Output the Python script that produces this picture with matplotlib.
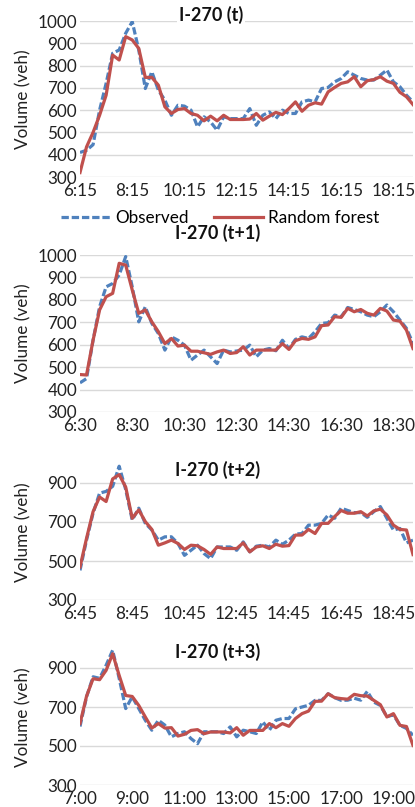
import matplotlib
matplotlib.use('Agg')
import matplotlib.pyplot as plt

plt.rcParams['font.family'] = ['Lato', 'DejaVu Sans']

# I-270 (t)
obs_t = [410, 420, 445, 600, 720, 855, 870, 945, 997, 870, 697, 772, 690, 645, 577, 622, 618, 600, 525, 570,
         547, 510, 570, 562, 562, 562, 607, 532, 577, 592, 562, 600, 585, 585, 637, 645, 637, 697, 702, 727,
         742, 772, 757, 742, 735, 735, 757, 780, 727, 705, 667, 637]
rf_t = [320, 435, 500, 577, 667, 847, 825, 930, 915, 877, 747, 747, 712, 615, 585, 603, 607, 585, 577, 552,
        573, 552, 577, 558, 558, 558, 560, 585, 555, 573, 590, 580, 607, 637, 595, 622, 633, 627, 682, 702,
        720, 727, 750, 705, 732, 737, 750, 730, 720, 680, 660, 625]

# I-270 (t+1)
obs_t1 = [430, 449, 620, 769, 858, 873, 911, 993, 858, 702, 769, 695, 650, 576, 635, 620, 598, 531, 554, 576,
          546, 516, 576, 568, 572, 576, 598, 546, 576, 583, 573, 620, 583, 624, 635, 628, 658, 695, 698, 732,
          725, 766, 757, 747, 732, 725, 747, 777, 747, 710, 673, 605]
rf_t1 = [467, 465, 620, 755, 814, 829, 963, 955, 844, 740, 755, 702, 658, 605, 628, 594, 598, 571, 571, 564,
         557, 568, 576, 561, 565, 591, 554, 576, 576, 576, 576, 605, 579, 618, 628, 624, 635, 685, 688, 725,
         722, 762, 747, 757, 740, 732, 762, 750, 710, 705, 665, 583]

# I-270 (t+2)
obs_t2 = [452, 607, 745, 848, 857, 883, 986, 866, 710, 771, 693, 659, 607, 624, 624, 590, 529, 555, 581, 538,
          512, 572, 572, 572, 555, 598, 547, 576, 581, 572, 607, 586, 607, 638, 641, 684, 684, 693, 736, 719,
          771, 759, 748, 748, 724, 753, 779, 719, 659, 667, 593, 607]
rf_t2 = [469, 616, 753, 828, 805, 921, 943, 879, 719, 762, 702, 662, 581, 593, 607, 590, 559, 581, 578, 559,
         534, 572, 564, 564, 564, 593, 547, 572, 578, 564, 586, 576, 579, 633, 633, 662, 641, 693, 693, 728,
         759, 745, 745, 753, 731, 757, 766, 736, 684, 662, 659, 533]

# I-270 (t+3)
obs_t3 = [600, 752, 855, 847, 914, 991, 847, 692, 752, 692, 632, 581, 632, 607, 547, 564, 573, 538, 512, 573,
          573, 573, 564, 598, 547, 581, 573, 564, 624, 581, 632, 641, 641, 691, 700, 709, 734, 734, 768, 748,
          734, 735, 745, 735, 780, 725, 708, 650, 660, 606, 590, 555]
rf_t3 = [615, 755, 845, 840, 888, 973, 862, 759, 754, 708, 649, 592, 615, 592, 594, 551, 560, 580, 584, 563,
         572, 572, 572, 567, 594, 555, 580, 580, 580, 615, 594, 615, 601, 641, 666, 679, 729, 730, 768, 748,
         743, 740, 765, 758, 756, 734, 712, 649, 666, 606, 600, 503]

labels_t = ['6:15', '8:15', '10:15', '12:15', '14:15', '16:15', '18:15']
labels_t1 = ['6:30', '8:30', '10:30', '12:30', '14:30', '16:30', '18:30']
labels_t2 = ['6:45', '8:45', '10:45', '12:45', '14:45', '16:45', '18:45']
labels_t3 = ['7:00', '9:00', '11:00', '13:00', '15:00', '17:00', '19:00']

titles = ['I-270 (t)', 'I-270 (t+1)', 'I-270 (t+2)', 'I-270 (t+3)']
observed = [obs_t, obs_t1, obs_t2, obs_t3]
forest = [rf_t, rf_t1, rf_t2, rf_t3]
xlabels = [labels_t, labels_t1, labels_t2, labels_t3]
yticks = [[300, 400, 500, 600, 700, 800, 900, 1000], [300, 400, 500, 600, 700, 800, 900, 1000],
          [300, 500, 700, 900], [300, 500, 700, 900]]

W, H = 415, 807
# caja de cada panel en pixeles: arriba, abajo, y del titulo, x del titulo
cajas = [(21, 177, 15, 211), (255, 412, 233, 218), (463.5, 600, 470, 218), (648.5, 785, 652, 218)]
izq, der = 80, 413

azul = '#4F81BD'
rojo = '#C0504D'
fs = 12.3

fig = plt.figure(figsize=(W / 100, H / 100), dpi=100)

for k in range(4):
    top, bot, ty, tx = cajas[k]
    ax = fig.add_axes([izq / W, 1 - bot / H, (der - izq) / W, (bot - top) / H])
    x = list(range(len(observed[k])))
    ax.plot(x, observed[k], color=azul, lw=2.3, dashes=(2.3, 0.9), label='Observed', zorder=3)
    ax.plot(x, forest[k], color=rojo, lw=2.3, label='Random forest', zorder=4)
    ax.set_xlim(0, len(x) - 1)
    ax.set_ylim(300, 1000)
    ax.set_yticks(yticks[k])
    ax.set_xticks(range(0, len(x) - 1, 8))
    ax.set_xticklabels(xlabels[k])
    ax.grid(axis='y', color='#D9D9D9', lw=1)
    ax.set_axisbelow(True)
    for s in ax.spines.values():
        s.set_visible(False)
    ax.tick_params(length=0, labelsize=fs, colors='#222222')
    ax.tick_params(axis='y', pad=2)
    ax.tick_params(axis='x', pad=4.5)
    fig.text(23 / W, 1 - (top + bot) / 2 / H, 'Volume (veh)', rotation=90, ha='center', va='center',
             fontsize=fs, color='#222222')
    fig.text(tx / W, 1 - ty / H, titles[k], ha='center', va='center', fontsize=13, fontweight='bold',
             color='#111111', zorder=10, bbox=dict(facecolor='white', edgecolor='none', pad=1))
    if k == 0:
        h, l = ax.get_legend_handles_labels()

fig.legend(h, l, loc='center', bbox_to_anchor=(220 / W, 1 - 218 / H), ncol=2, frameon=False,
           fontsize=fs, handlelength=2.9, handletextpad=0.25, columnspacing=1.5)

fig.savefig('out.png', dpi=100)
